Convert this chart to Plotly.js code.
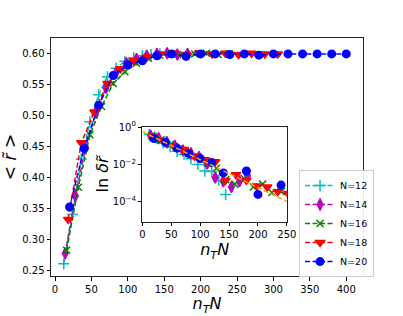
<!DOCTYPE html>
<html><head><meta charset="utf-8">
<script src="https://cdn.plot.ly/plotly-3.0.1.min.js"></script>
<style>body{margin:0;background:#fff}#c{width:403px;height:316px}</style>
</head><body><div id="c"></div>
<script>
// Main panel: <r~> vs n_T N
const x12 = [12,24,36,48,60,72,84,96,108,120,132,144];
const r12 = [0.260,0.340,0.430,0.490,0.534,0.563,0.577,0.588,0.594,0.597,0.599,0.600];
const x14 = [14,28,42,56,70,84,98,112,126,140,154,168,182];
const r14 = [0.277,0.370,0.448,0.505,0.545,0.570,0.585,0.592,0.597,0.600,0.601,0.599,0.600];
const x16 = [16,32,48,64,80,96,112,128,144,160,176,192,208,224,240];
const r16 = [0.282,0.384,0.469,0.515,0.552,0.571,0.585,0.593,0.598,0.600,0.599,0.600,0.601,0.599,0.600];
const x18 = [18,36,54,72,90,108,126,144,162,180,198,216,234,252,270,288,306];
const r18 = [0.332,0.456,0.506,0.552,0.576,0.589,0.595,0.600,0.601,0.599,0.602,0.600,0.601,0.599,0.601,0.600,0.600];
const x20 = [20,40,60,80,100,120,140,160,180,200,220,240,260,280,300,320,340,360,380,400];
const r20 = [0.352,0.447,0.517,0.565,0.582,0.589,0.597,0.600,0.596,0.600,0.600,0.599,0.600,0.598,0.600,0.600,0.600,0.600,0.600,0.600];
const errMain = [0.004];

// Inset: ln(delta r~) vs n_T N (log10 of values read)
const li12 = [-0.40,-0.60,-0.85,-1.05,-1.30,-1.45,-1.70,-2.00,-2.35,-2.38,-2.85,-3.60];
const li14 = [-0.45,-0.60,-0.80,-1.00,-1.25,-1.40,-1.60,-1.95,-2.70,-2.90,-3.20,-2.90,-2.60];
const li16 = [-0.45,-0.68,-0.95,-1.15,-1.40,-1.60,-1.90,-2.20,-2.80,-3.05,-2.75,-3.20,-3.05,-3.50,-3.45];
const li18 = [-0.50,-0.75,-1.00,-1.20,-1.55,-1.75,-1.85,-2.85,-2.55,-2.85,-3.15,-3.20,-3.45,-3.55];
const li20 = [-0.62,-0.82,-1.13,-1.42,-1.68,-1.90,-2.45,null,-2.35,-3.60,null,-3.10];
const fitX = [0,250];
const fitLog = [-0.25,-3.98];

const labels = ['N=12','N=14','N=16','N=18','N=20'];
const colors = ['#00bfbf','#bf00bf','#008000','#ff0000','#0000ff'];
const symbols = ['cross-thin-open','diamond-tall','x-thin-open','triangle-down','circle'];
const sizes = [8,8,7,8,7.5];
const xs = [x12,x14,x16,x18,x20];
const rs = [r12,r14,r16,r18,r20];
const lis = [li12,li14,li16,li18,li20];
const dashPat = '5px,2.5px';

const traces = [];
for (let i=0;i<5;i++){
  traces.push({
    x: xs[i], y: rs[i], type:'scatter', mode:'lines+markers', name: labels[i],
    line:{color:colors[i], dash:dashPat, width:1.5},
    marker:{color:colors[i], symbol:symbols[i], size:sizes[i], line:{color:colors[i], width:1.5}},
    error_y:{type:'constant', value:errMain[0], color:colors[i], thickness:1, width:0},
    xaxis:'x', yaxis:'y'
  });
}
for (let i=0;i<5;i++){
  const n = lis[i].length;
  traces.push({
    x: xs[i].slice(0,n), y: lis[i].map(v => v===null?null:Math.pow(10,v)), type:'scatter', mode:'markers',
    showlegend:false,
    marker:{color:colors[i], symbol:symbols[i], size:sizes[i], line:{color:colors[i], width:1.5}},
    xaxis:'x2', yaxis:'y2'
  });
}
traces.push({x: fitX, y: fitLog.map(v=>Math.pow(10,v)), type:'scatter', mode:'lines', showlegend:false,
  line:{color:'#ffa500', dash:dashPat, width:1.5}, xaxis:'x2', yaxis:'y2'});

const tf = {family:'DejaVu Sans', size:10, color:'#000'};
const layout = {
  width:403, height:316,
  margin:{l:51, r:40, t:38, b:40},
  paper_bgcolor:'#fff', plot_bgcolor:'#fff',
  font:{family:'DejaVu Sans', color:'#000'},
  showlegend:true,
  legend:{x:0.795, y:0.445, xanchor:'left', yanchor:'top', bgcolor:'rgba(255,255,255,0.9)',
    bordercolor:'#ccc', borderwidth:1, font:{family:'DejaVu Sans', size:9.5}, tracegroupgap:0,
    itemwidth:30},
  xaxis:{domain:[0,1], range:[-5.5,423], tickvals:[0,50,100,150,200,250,300,350,400],
    ticks:'outside', ticklen:3.5, tickwidth:1, tickcolor:'#000', showline:true, linecolor:'#222', linewidth:1, mirror:true,
    showgrid:false, zeroline:false, tickfont:tf,
    title:{text:'<i>n<sub>T</sub>N</i>', font:{family:'DejaVu Sans', size:16}, standoff:4}},
  yaxis:{domain:[0,1], range:[0.2403,0.6258], tickvals:[0.25,0.30,0.35,0.40,0.45,0.50,0.55,0.60],
    ticktext:['0.25','0.30','0.35','0.40','0.45','0.50','0.55','0.60'],
    ticks:'outside', ticklen:3.5, tickwidth:1, tickcolor:'#000', showline:true, linecolor:'#222', linewidth:1, mirror:true,
    showgrid:false, zeroline:false, tickfont:tf,
    title:{text:'&lt; <i>r̃</i> &gt;', font:{family:'DejaVu Sans', size:17}, standoff:6}},
  xaxis2:{domain:[0.293,0.756], anchor:'y2', range:[0,250], tickvals:[0,50,100,150,200,250],
    ticks:'outside', ticklen:3.5, tickcolor:'#000', showline:true, linecolor:'#222', linewidth:1, mirror:true,
    showgrid:false, zeroline:false, tickfont:tf,
    title:{text:'<i>n<sub>T</sub>N</i>', font:{family:'DejaVu Sans', size:16}, standoff:2}},
  yaxis2:{domain:[0.227,0.626], anchor:'x2', type:'log', range:[-5.07,0],
    tickvals:[1,1e-2,1e-4], ticktext:['10<sup>0</sup>','10<sup>−2</sup>','10<sup>−4</sup>'],
    ticks:'outside', ticklen:3.5, tickcolor:'#000', showline:true, linecolor:'#222', linewidth:1, mirror:true,
    showgrid:false, zeroline:false, tickfont:tf,
    title:{text:'ln <i>δr̃</i>', font:{family:'DejaVu Sans', size:16}, standoff:0}},
  shapes:[{type:'rect', xref:'paper', yref:'paper', x0:0.293, x1:0.756, y0:0.227, y1:0.626,
    fillcolor:'#fff', line:{width:0}, layer:'below'}]
};
Plotly.newPlot('c', traces, layout, {staticPlot:true, displayModeBar:false});
</script></body></html>
